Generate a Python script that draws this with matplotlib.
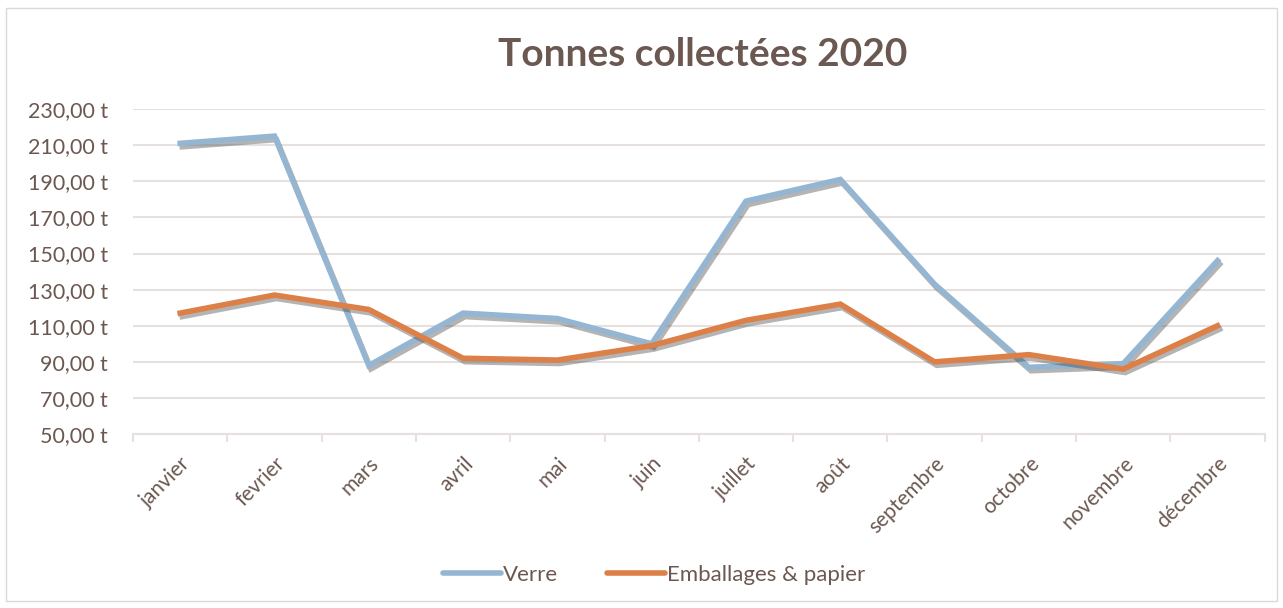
import matplotlib.pyplot as plt
import matplotlib.patheffects as pe
from matplotlib.ticker import FixedLocator, FuncFormatter
from matplotlib.patches import Rectangle

mois = ['janvier', 'fevrier', 'mars', 'avril', 'mai', 'juin', 'juillet',
        'août', 'septembre', 'octobre', 'novembre', 'décembre']
verre = [211, 215, 88, 117, 114, 100, 179, 191, 133, 87, 89, 146]
emballages = [117, 127, 119, 92, 91, 99, 113, 122, 90, 94, 86, 110]

brun = '#6b5850'
bleu = '#94b6d2'
orange = '#dd8047'
grille = '#e6e1de'

plt.rcParams['font.family'] = ['Lato', 'DejaVu Sans']

fig = plt.figure(figsize=(12.83, 6.08), dpi=100)
ax = fig.add_axes([0.1037, 0.286, 0.882, 0.5347])

ombre = [pe.SimpleLineShadow(offset=(1.5, -2.5), shadow_color='#444444', alpha=0.4),
         pe.Normal()]
x = list(range(len(mois)))
ax.plot(x, verre, color=bleu, lw=4, label='Verre',
        solid_joinstyle='miter', path_effects=ombre, zorder=3)
ax.plot(x, emballages, color=orange, lw=4, label='Emballages & papier',
        solid_joinstyle='miter', path_effects=ombre, zorder=4)

ax.set_xlim(-0.5, len(mois) - 0.5)
ax.set_ylim(50, 230)
ax.set_yticks(range(50, 231, 20))
ax.yaxis.set_major_formatter(FuncFormatter(lambda v, p: f'{v:.2f} t'.replace('.', ',')))
ax.grid(axis='y', color=grille, lw=1.5)
ax.set_axisbelow(True)

ax.set_xticks(x)
ax.set_xticklabels(mois, rotation=45, ha='right', va='top', rotation_mode='anchor')
ax.xaxis.set_minor_locator(FixedLocator([i - 0.5 for i in range(len(mois) + 1)]))
ax.tick_params(axis='x', which='major', length=0, pad=14, labelsize=15, colors=brun)
ax.tick_params(axis='x', which='minor', length=6, color=grille, width=1.5)
ax.tick_params(axis='y', length=0, pad=18, labelsize=15.5, colors=brun)

for s in ['top', 'right', 'left']:
    ax.spines[s].set_visible(False)
ax.spines['bottom'].set_color(grille)
ax.spines['bottom'].set_linewidth(1.5)

fig.text(0.548, 0.91, 'Tonnes collectées 2020', ha='center', va='center',
         fontsize=28, fontweight='bold', color=brun)

leg = fig.legend(loc='center', bbox_to_anchor=(0.51, 0.054), ncol=2,
                 frameon=False, fontsize=16, handlelength=2.6,
                 handletextpad=0.1, columnspacing=2.2)
for t in leg.get_texts():
    t.set_color(brun)
for h in leg.get_lines():
    h.set_path_effects([])
    h.set_solid_capstyle('round')

fig.patches.append(Rectangle((0.005, 0.012), 0.99, 0.975, transform=fig.transFigure,
                             fill=False, edgecolor='#dcd8d6', lw=1))

fig.savefig('out.png', dpi=100, facecolor='white')
